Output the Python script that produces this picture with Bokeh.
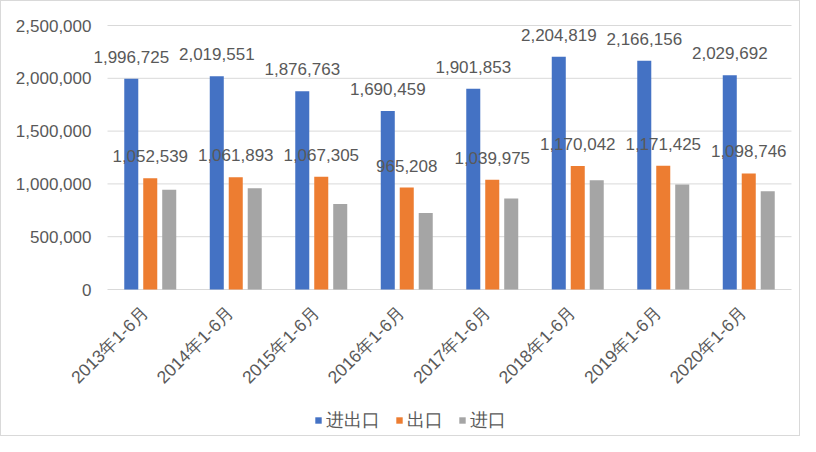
import math
from bokeh.plotting import figure
from bokeh.models import ColumnDataSource, Range1d, LabelSet, Legend, LegendItem
from bokeh.transform import dodge
from bokeh.core.properties import value
from bokeh.embed import file_html
from bokeh.resources import INLINE

# ---- data ----
categories = ["2013年1-6月", "2014年1-6月", "2015年1-6月", "2016年1-6月",
              "2017年1-6月", "2018年1-6月", "2019年1-6月", "2020年1-6月"]
total = [1996725, 2019551, 1876763, 1690459, 1901853, 2204819, 2166156, 2029692]
exports = [1052539, 1061893, 1067305, 965208, 1039975, 1170042, 1171425, 1098746]
imports = [944186, 957658, 809458, 725251, 861878, 1034777, 994731, 930946]
series_names = ["进出口", "出口", "进口"]
y_ticks = [0, 500000, 1000000, 1500000, 2000000, 2500000]
y_tick_labels = ["0", "500,000", "1,000,000", "1,500,000", "2,000,000", "2,500,000"]
colors = ["#4472C4", "#ED7D31", "#A5A5A5"]

# ---- layout (pixels) ----
W, H = 800, 436
PL, PR, PT, PB = 106, 790, 24, 288
n = len(categories)
unit = (PR - PL) / n
x_start = -0.5 - PL / unit
x_end = n - 0.5 + (W - PR) / unit
y_max = y_ticks[-1]
ppu = (PB - PT) / y_max
y_start = -(H - PB) / ppu
y_end = y_max + PT / ppu
x_left, x_right = -0.5, n - 0.5

TXT = "#595959"
FONT = "Liberation Sans"
GRID = "#d9d9d9"

src = ColumnDataSource(dict(
    xi=list(range(n)), cat=categories, total=total, exports=exports, imports=imports,
    zero=[0] * n,
    total_lbl=[f"{v:,}" for v in total],
    exports_lbl=[f"{v:,}" for v in exports],
))
tick_src = ColumnDataSource(dict(y=y_ticks, lbl=y_tick_labels,
                                 x0=[x_left] * len(y_ticks), x1=[x_right] * len(y_ticks)))

p = figure(width=W, height=H, output_backend="svg", toolbar_location=None,
           x_range=Range1d(x_start, x_end), y_range=Range1d(y_start, y_end),
           x_axis_location=None, y_axis_location=None, title=None,
           min_border=0, min_border_left=0, min_border_right=0,
           min_border_top=0, min_border_bottom=0)
p.styles = {"border": "1px solid #d9d9d9"}
p.outline_line_color = None
p.background_fill_color = "white"
p.xgrid.visible = False
p.ygrid.visible = False

# gridlines
p.segment(x0="x0", x1="x1", y0="y", y1="y", source=tick_src, line_color=GRID, line_width=1)

# y tick labels
p.add_layout(LabelSet(x="x0", y="y", text="lbl", source=tick_src, x_offset=-16,
                      text_align="right", text_baseline="middle",
                      text_font_size="17px", text_color=TXT, text_font=value(FONT)))

# bars
w = 0.164
off = 0.222
r1 = p.vbar(x=dodge("xi", -off), top="total", width=w, source=src,
            fill_color=colors[0], line_color=None)
r2 = p.vbar(x=dodge("xi", 0), top="exports", width=w, source=src,
            fill_color=colors[1], line_color=None)
r3 = p.vbar(x=dodge("xi", off), top="imports", width=w, source=src,
            fill_color=colors[2], line_color=None)

# data labels
for col, lbl, o in [("total", "total_lbl", -off), ("exports", "exports_lbl", 0)]:
    p.add_layout(LabelSet(x=dodge("xi", o), y=col, text=lbl, source=src,
                          text_align="center", text_baseline="alphabetic", y_offset=16,
                          text_font_size="17px", text_color=TXT, text_font=value(FONT)))

# category labels (rotated 45°)
p.add_layout(LabelSet(x="xi", y="zero", text="cat", source=src, angle=math.pi / 4,
                      x_offset=-5, y_offset=-20, text_align="right", text_baseline="middle",
                      text_font_size="17.5px", text_color=TXT, text_font=value(FONT)))

legend = Legend(items=[LegendItem(label=series_names[0], renderers=[r1]),
                       LegendItem(label=series_names[1], renderers=[r2]),
                       LegendItem(label=series_names[2], renderers=[r3])],
                location=(313, 5), orientation="horizontal",
                border_line_color=None, background_fill_alpha=0,
                glyph_width=8, glyph_height=8, label_standoff=4, spacing=15,
                padding=0, margin=0, label_text_font_size="18px",
                label_text_color=TXT, label_text_font=FONT)
p.add_layout(legend)

open("out.html", "w").write(file_html(p, INLINE))
